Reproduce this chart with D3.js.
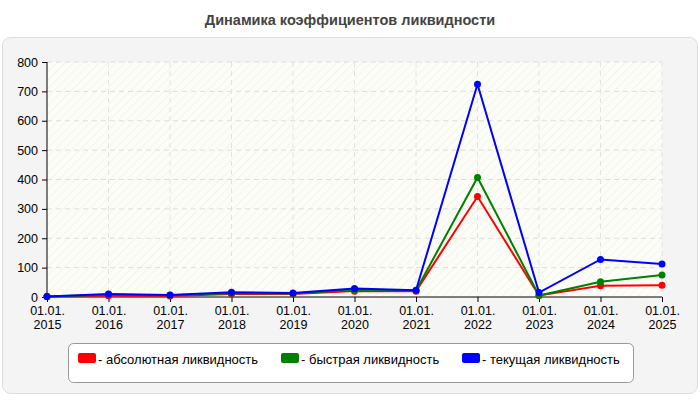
<!DOCTYPE html><html><head><meta charset="utf-8"><script src="https://cdn.jsdelivr.net/npm/d3@7"></script>
<style>body{margin:0;background:#fff;font-family:Arial,"Liberation Sans",sans-serif}</style></head><body><svg id="c" width="700" height="400"></svg>
<script>
const categories=["01.01.|2015","01.01.|2016","01.01.|2017","01.01.|2018","01.01.|2019","01.01.|2020","01.01.|2021","01.01.|2022","01.01.|2023","01.01.|2024","01.01.|2025"];
const absolute=[2,4,3,10,10,20,20,342,5,38,40];
const quick=[2,8,6,13,12,25,22,407,5,52,75];
const current=[2,10,7,16,14,29,23,724,15,128,112];
const yTicks=[0,100,200,300,400,500,600,700,800];
const seriesNames=["- абсолютная ликвидность","- быстрая ликвидность","- текущая ликвидность"];
const colors=["#ff0000","#008000","#0000ff"];
const svg=d3.select("#c");
svg.append("text").attr("x",350).attr("y",25).attr("text-anchor","middle").attr("font-size",14.5).attr("font-weight","bold").attr("fill","#444").text("Динамика коэффициентов ликвидности");
svg.append("rect").attr("x",2.5).attr("y",37.5).attr("width",695).attr("height",356).attr("rx",8).attr("fill","#f4f4f4").attr("stroke","#ddd");
const defs=svg.append("defs");
const p=defs.append("pattern").attr("id","h").attr("width",6).attr("height",6).attr("patternUnits","userSpaceOnUse").attr("patternTransform","rotate(45)");
p.append("rect").attr("width",6).attr("height",6).attr("fill","#fdfdf7");
p.append("line").attr("x1",0).attr("y1",0).attr("x2",0).attr("y2",6).attr("stroke","#ecece6").attr("stroke-width",1);
const L=47,R=662,T=62,B=297;
const x=d3.scalePoint().domain(d3.range(categories.length)).range([L,R]);
const y=d3.scaleLinear().domain([0,800]).range([B,T]);
svg.append("rect").attr("x",L).attr("y",T).attr("width",R-L).attr("height",B-T).attr("fill","url(#h)");
const g=svg.append("g");
yTicks.forEach(t=>{if(t>0)g.append("line").attr("x1",L).attr("x2",R).attr("y1",y(t)).attr("y2",y(t)).attr("stroke","#ddd").attr("stroke-dasharray","5,4");});
categories.forEach((c,i)=>{if(i>0)g.append("line").attr("x1",x(i)).attr("x2",x(i)).attr("y1",T).attr("y2",B).attr("stroke","#e2e2e2").attr("stroke-dasharray","5,4");});
const ya=svg.append("g").attr("transform",`translate(${L},0)`).call(d3.axisLeft(y).tickValues(yTicks).tickSize(5).tickPadding(4));
ya.selectAll("text").attr("font-size",12.5).attr("fill","#000").attr("font-family","Arial,'Liberation Sans',sans-serif");
ya.select(".domain").attr("d",`M0,${T}V${B}`);
const xa=svg.append("g").attr("transform",`translate(0,${B})`).call(d3.axisBottom(x).tickSize(5).tickFormat(""));
xa.select(".domain").attr("d",`M${L},0H${R}`);
xa.selectAll(".tick").each(function(d){const t=d3.select(this).append("text").attr("fill","#000").attr("font-size",12.5).attr("text-anchor","middle").attr("font-family","Arial,'Liberation Sans',sans-serif");const parts=categories[d].split("|");t.append("tspan").attr("x",0).attr("y",18).text(parts[0]);t.append("tspan").attr("x",0).attr("y",32).text(parts[1]);});
const line=d3.line().x((d,i)=>x(i)).y(d=>y(d));
[absolute,quick,current].forEach((s,k)=>{
 svg.append("path").datum(s).attr("d",line).attr("fill","none").attr("stroke",colors[k]).attr("stroke-width",2);
 svg.selectAll(null).data(s).enter().append("circle").attr("cx",(d,i)=>x(i)).attr("cy",d=>y(d)).attr("r",3.5).attr("fill",colors[k]);
});
svg.append("rect").attr("x",68.5).attr("y",343.5).attr("width",565).attr("height",39).attr("rx",5).attr("fill","#fff").attr("stroke","#999");
const lx=[78,281,462];
seriesNames.forEach((n,k)=>{
 svg.append("rect").attr("x",lx[k]).attr("y",353).attr("width",18).attr("height",10).attr("rx",2).attr("fill",colors[k]);
 svg.append("text").attr("x",lx[k]+20).attr("y",364).attr("font-size",13).attr("fill","#000").text(n);
});
</script></body></html>
